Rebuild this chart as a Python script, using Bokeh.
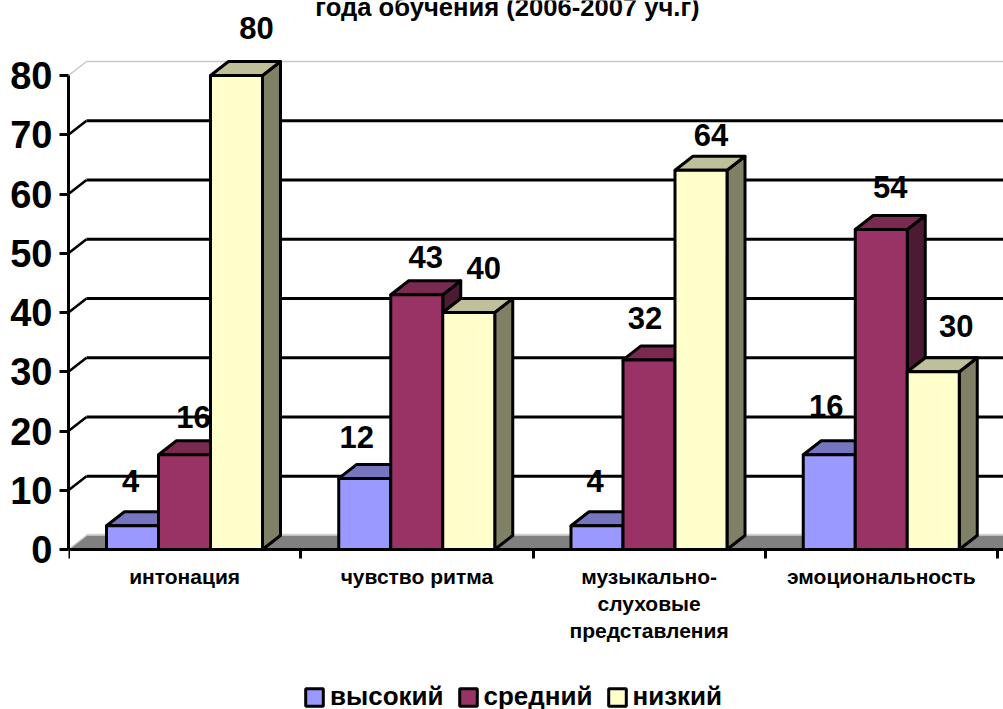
from bokeh.plotting import figure
from bokeh.models import (ColumnDataSource, FixedTicker, Label, Legend, LegendItem, LabelSet, Range1d)
from bokeh.core.properties import value
from bokeh.embed import file_html
from bokeh.resources import INLINE

title_text = "года обучения (2006-2007 уч.г)"
categories = ["интонация", "чувство ритма", "музыкально-\nслуховые\nпредставления", "эмоциональность"]
series_names = ["высокий", "средний", "низкий"]
high = [4, 12, 4, 16]
mid = [16, 43, 32, 54]
low = [80, 40, 64, 30]
y_ticks = [0, 10, 20, 30, 40, 50, 60, 70, 80]

front_colors = ["#9999FF", "#993366", "#FFFFCC"]
top_colors = ["#7575C0", "#7A2A50", "#BFBF99"]
side_colors = ["#7373BF", "#4D1A33", "#808066"]

# hand-placed label offsets from each bar's top centre, in pixels
label_dx = [[-2, -8, -2, -3], [9, 9, -4, 9], [20, 15, 10, 23]]
label_dy = [[45, 41, 45, 49], [38, 38, 42, 43], [48, 45, 35, 46]]

PX_Y = 474 / 80        # pixels per value
PX_X = 232.25          # pixels per category
PLOT_BOTTOM = 549
PLOT_LEFT = 68
W, H = 1003, 709

DX = 18 / PX_X
DY = 14 / PX_Y
GAP = 38 / PX_X
BAR = 52 / PX_X
X_END = (W - PLOT_LEFT) / PX_X

p = figure(frame_width=W - PLOT_LEFT, frame_height=H, output_backend="svg", toolbar_location=None,
           x_range=Range1d(0, X_END),
           y_range=Range1d(-(H - PLOT_BOTTOM) / PX_Y, PLOT_BOTTOM / PX_Y),
           min_border_left=PLOT_LEFT, min_border_right=0,
           min_border_top=0, min_border_bottom=0,
           outline_line_color=None, background_fill_color="white")
p.xgrid.visible = False
p.ygrid.visible = False

# floor
p.patch([0, DX, X_END, X_END], [0, DY, DY, 0], fill_color="#808080", line_color=None, level="underlay")
p.segment([DX], [DY + 0.2], [X_END], [DY + 0.2], line_color="#C8C8C8", line_width=1, level="underlay")

# back wall grid
inner = [v for v in y_ticks if 0 < v < 80]
p.segment([DX] * len(inner), [v + DY for v in inner], [X_END] * len(inner), [v + DY for v in inner],
          line_color="black", line_width=3, level="underlay")
p.segment([0] * len(inner), inner, [DX] * len(inner), [v + DY for v in inner],
          line_color="black", line_width=2.5, level="underlay")
p.segment([0, DX], [80, 80 + DY], [DX, X_END], [80 + DY, 80 + DY], line_color="#C8C8C8", line_width=1.5, level="underlay")
p.segment([0], [0], [DX], [DY], line_color="#C8C8C8", line_width=1.5, level="underlay")

items = []
lab_x, lab_y, lab_t, lab_dx, lab_dy = [], [], [], [], []
for j, vals in enumerate([high, mid, low]):
    lefts = [i + GAP + j * BAR for i in range(4)]
    rights = [l + BAR for l in lefts]
    p.patches([[r, r + DX, r + DX, r] for r in rights],
              [[0, DY, v + DY, v] for v in vals],
              fill_color=side_colors[j], line_color="black", line_width=3, line_join="round")
    p.patches([[l, l + DX, r + DX, r] for l, r in zip(lefts, rights)],
              [[v, v + DY, v + DY, v] for v in vals],
              fill_color=top_colors[j], line_color="black", line_width=3, line_join="round")
    front = p.quad(left=lefts, right=rights, bottom=[0] * 4, top=vals,
                   fill_color=front_colors[j], line_color="black", line_width=3)
    items.append(LegendItem(label=series_names[j], renderers=[front]))
    for i in range(4):
        lab_x.append(lefts[i] + BAR / 2)
        lab_y.append(vals[i])
        lab_t.append(str(vals[i]))
        lab_dx.append(label_dx[j][i])
        lab_dy.append(label_dy[j][i])

labels = LabelSet(x="x", y="y", text="t", x_offset="dx", y_offset="dy",
                  source=ColumnDataSource(dict(x=lab_x, y=lab_y, t=lab_t, dx=lab_dx, dy=lab_dy)),
                  text_align="center", text_baseline="middle", text_font=value("Liberation Sans"),
                  text_font_size="31px", text_font_style="bold", text_color="black")
p.add_layout(labels)

p.add_layout(Label(x=(507 - PLOT_LEFT) / PX_X, y=(PLOT_BOTTOM - 6) / PX_Y, text=title_text,
                   text_align="center", text_baseline="middle", text_font="Liberation Sans",
                   text_font_size="25.6px", text_font_style="bold", text_color="black"))

# axes
ya = p.yaxis[0]
ya.ticker = FixedTicker(ticks=y_ticks)
ya.bounds = (0, 80)
ya.axis_line_color = "black"
ya.axis_line_width = 3
ya.major_tick_line_color = "black"
ya.major_tick_line_width = 3
ya.major_tick_in = 0
ya.major_tick_out = 9
ya.minor_tick_line_color = None
ya.major_label_standoff = 7
ya.major_label_text_font = "Liberation Sans"
ya.major_label_text_font_size = "38px"
ya.major_label_text_font_style = "bold"
ya.major_label_text_color = "black"

xa = p.xaxis[0]
xa.fixed_location = 0
centers = [i + 0.5 for i in range(4)]
xa.ticker = FixedTicker(ticks=centers, minor_ticks=list(range(5)))
xa.major_label_overrides = {c: t for c, t in zip(centers, categories)}
xa.axis_line_color = "black"
xa.axis_line_width = 3
xa.major_tick_line_color = None
xa.major_tick_in = 0
xa.major_tick_out = 0
xa.minor_tick_line_color = "black"
xa.minor_tick_line_width = 3
xa.minor_tick_in = 0
xa.minor_tick_out = 9
xa.major_label_standoff = 6
xa.major_label_text_font = "Liberation Sans"
xa.major_label_text_font_size = "21px"
xa.major_label_text_font_style = "bold"
xa.major_label_text_color = "black"
xa.major_label_text_line_height = 1.18

legend = Legend(items=items, orientation="horizontal", location=(235, -3),
                border_line_color=None, background_fill_alpha=0,
                glyph_width=22, glyph_height=22, label_standoff=5, spacing=13,
                padding=0, margin=0, label_text_font="Liberation Sans",
                label_text_font_size="26px", label_text_font_style="bold",
                label_text_color="black", label_height=24)
p.add_layout(legend)

open("out.html", "w").write(file_html(p, INLINE))
